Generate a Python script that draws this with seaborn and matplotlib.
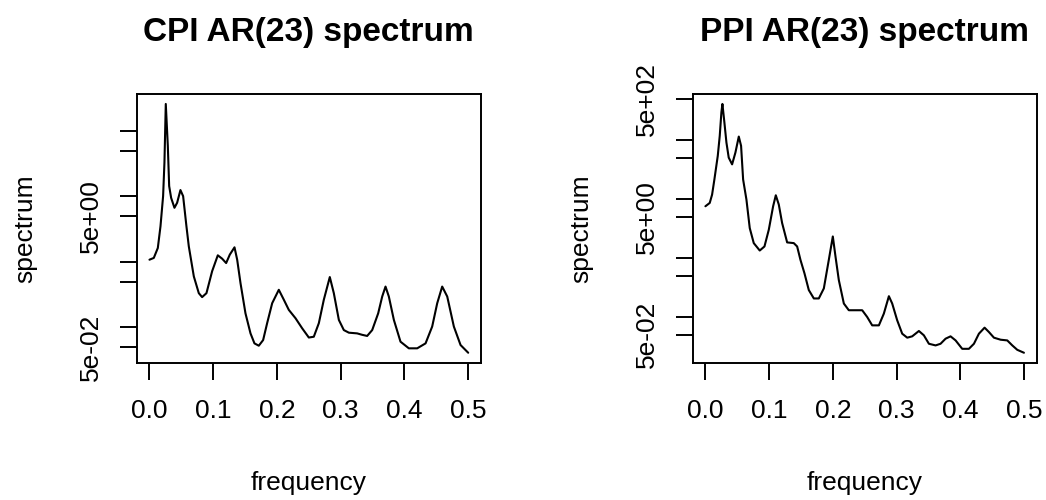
import numpy as np
import pandas as pd
import matplotlib
matplotlib.use("Agg")
import matplotlib.pyplot as plt
import seaborn as sns

#-- values --
cpi_freq = [0.0, 0.0068, 0.0131, 0.0173, 0.0214, 0.0235, 0.0256, 0.0288, 0.0309, 0.034,
            0.0392, 0.0434, 0.0486, 0.0528, 0.058, 0.0617, 0.0696, 0.0774, 0.0826, 0.0894,
            0.0983, 0.1072, 0.114, 0.1203, 0.126, 0.1334, 0.1376, 0.1428, 0.1506, 0.1585,
            0.1647, 0.1715, 0.1783, 0.1846, 0.1925, 0.2029, 0.2108, 0.2186, 0.2291, 0.2395,
            0.25, 0.2578, 0.2657, 0.2735, 0.2829, 0.2892, 0.2971, 0.3049, 0.3128, 0.3258,
            0.3337, 0.3415, 0.3494, 0.3588, 0.3651, 0.3703, 0.3755, 0.3834, 0.3938, 0.4069,
            0.42, 0.4331, 0.4435, 0.4514, 0.4592, 0.4671, 0.4775, 0.488, 0.5]
cpi_spec = [1.08, 1.15, 1.63, 3.5, 10.1, 32.9, 258, 59, 14.4, 9.5,
            6.7, 8.0, 12.5, 10.1, 3.5, 1.73, 0.60, 0.333, 0.29, 0.333,
            0.72, 1.26, 1.12, 0.96, 1.29, 1.67, 1.08, 0.475, 0.164, 0.081,
            0.057, 0.0525, 0.064, 0.116, 0.234, 0.375, 0.264, 0.185, 0.138, 0.097,
            0.070, 0.072, 0.116, 0.264, 0.587, 0.333, 0.130, 0.091, 0.083, 0.081,
            0.077, 0.074, 0.091, 0.164, 0.296, 0.42, 0.296, 0.130, 0.0605, 0.0479,
            0.0479, 0.057, 0.103, 0.234, 0.42, 0.296, 0.103, 0.0538, 0.041]

ppi_freq = [0.0, 0.0068, 0.0105, 0.0141, 0.0194, 0.0225, 0.0251, 0.0267, 0.0298, 0.033,
            0.0366, 0.0419, 0.0471, 0.0524, 0.056, 0.0592, 0.0644, 0.0696, 0.0759, 0.0853,
            0.0927, 0.0995, 0.1063, 0.1105, 0.1152, 0.1204, 0.1283, 0.1387, 0.144, 0.1492,
            0.1555, 0.1623, 0.1702, 0.178, 0.1859, 0.1937, 0.2, 0.2042, 0.2094, 0.2173,
            0.2251, 0.233, 0.2461, 0.2539, 0.2618, 0.2723, 0.2801, 0.288, 0.2932, 0.301,
            0.3089, 0.3168, 0.3246, 0.3351, 0.3429, 0.3508, 0.3613, 0.3691, 0.377, 0.3848,
            0.3927, 0.4031, 0.4136, 0.4215, 0.4293, 0.4382, 0.445, 0.4529, 0.4634, 0.4738,
            0.4817, 0.4895, 0.5]
ppi_spec = [7.55, 8.6, 11.9, 21.5, 54, 118, 296, 411, 200, 91,
            50.5, 38.8, 61.5, 115, 80, 21.5, 9.8, 3.22, 1.79, 1.34,
            1.57, 3.02, 7.55, 11.6, 8.07, 3.93, 1.84, 1.79, 1.57, 0.93,
            0.55, 0.286, 0.206, 0.206, 0.305, 0.93, 2.32, 1.06, 0.423, 0.169,
            0.130, 0.130, 0.130, 0.100, 0.072, 0.072, 0.114, 0.225, 0.169, 0.088,
            0.052, 0.0445, 0.0469, 0.0578, 0.0488, 0.0351, 0.0329, 0.0351, 0.0428, 0.0469,
            0.040, 0.0288, 0.0288, 0.0351, 0.052, 0.0658, 0.0555, 0.0445, 0.0411, 0.040,
            0.0329, 0.0277, 0.0247]

titles = ["CPI AR(23) spectrum", "PPI AR(23) spectrum"]
x_ticks = [0.0, 0.1, 0.2, 0.3, 0.4, 0.5]
x_ticklabels = ["0.0", "0.1", "0.2", "0.3", "0.4", "0.5"]
cpi_yticks = [0.05, 0.1, 0.5, 1, 5, 10, 50, 100]
cpi_ylabels = ["5e-02", "", "", "", "5e+00", "", "", ""]
ppi_yticks = [0.05, 0.1, 0.5, 1, 5, 10, 50, 100, 500]
ppi_ylabels = ["5e-02", "", "", "", "5e+00", "", "", "", "5e+02"]

sns.set_style("white")
plt.rcParams.update({'font.family': ['Liberation Sans', 'DejaVu Sans'],
                     'font.size': 19,
                     'text.color': 'black',
                     'axes.labelcolor': 'black',
                     'xtick.color': 'black',
                     'ytick.color': 'black',
                     'axes.linewidth': 1.4})

fig = plt.figure(figsize=(10.46, 5), dpi=100)
ax1 = fig.add_axes([0.1307, 0.2746, 0.3291, 0.5374])
ax2 = fig.add_axes([0.6622, 0.2746, 0.3289, 0.5374])

panels = [(ax1, cpi_freq, cpi_spec, cpi_yticks, cpi_ylabels),
          (ax2, ppi_freq, ppi_spec, ppi_yticks, ppi_ylabels)]

for (ax, fr, sp, yt, yl), title in zip(panels, titles):
    df = pd.DataFrame({'frequency': fr, 'spectrum': sp})
    sns.lineplot(x='frequency', y='spectrum', data=df, ax=ax, color='black', linewidth=1.5)
    ax.set_yscale('log')
    # R style range: 4% padding around the data
    lo, hi = np.log10(min(sp)), np.log10(max(sp))
    pad = 0.04 * (hi - lo)
    ax.set_ylim(10 ** (lo - pad), 10 ** (hi + pad))
    ax.set_xlim(-0.02, 0.52)
    ax.set_xticks(x_ticks)
    ax.set_xticklabels(x_ticklabels)
    ax.set_yticks(yt)
    ax.set_yticklabels(yl)
    ax.minorticks_off()
    ax.tick_params(axis='both', direction='out', length=12, width=1.4, labelsize=19,
                   bottom=True, left=True, top=False, right=False)
    ax.tick_params(axis='x', pad=14)
    ax.tick_params(axis='y', pad=12)
    plt.setp(ax.get_yticklabels(), rotation=90, va='center')
    for s in ax.spines.values():
        s.set_visible(True)
        s.set_color('black')
        s.set_linewidth(1.4)
    ax.set_xlabel('frequency', fontsize=19, labelpad=35)
    ax.set_ylabel('spectrum', fontsize=19, labelpad=30)
    ax.set_title(title, fontsize=24, fontweight='bold', pad=38)

fig.savefig('out.png', dpi=100, facecolor='white')
